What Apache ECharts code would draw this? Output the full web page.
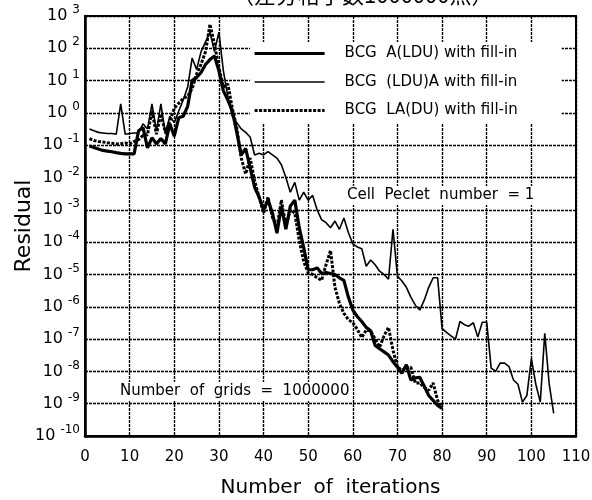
<!DOCTYPE html>
<html>
<head>
<meta charset="utf-8">
<script src="https://cdn.jsdelivr.net/npm/echarts@6/dist/echarts.min.js"></script>
<style>
html, body { margin: 0; padding: 0; background: #fff; }
#chart { width: 592px; height: 500px; }
</style>
</head>
<body>
<div id="chart"></div>
<script>
// Iteration numbers (x) for each convergence history
const iterations = [
  1,2,3,4,5,6,7,8,9,10,11,12,13,14,15,16,17,18,19,20,
  21,22,23,24,25,26,27,28,29,30,31,32,33,34,35,36,37,38,39,40,
  41,42,43,44,45,46,47,48,49,50,51,52,53,54,55,56,57,58,59,60,
  61,62,63,64,65,66,67,68,69,70,71,72,73,74,75,76,77,78,79,80,
  81,82,83,84,85,86,87,88,89,90,91,92,93,94,95,96,97,98,99,100,
  101,102,103,104,105
];

// BCG A(LDU) with fill-in : residual per iteration (1..80)
const residualA_LDU = [
  9.5e-2, 8.5e-2, 7.6e-2, 6.9e-2, 6.6e-2, 6.3e-2, 5.9e-2, 5.6e-2, 5.4e-2, 5.4e-2,
  5.4e-2, 2.8e-1, 3.5e-1, 8.3e-2, 1.7e-1, 1.1e-1, 1.6e-1, 1.1e-1, 4.6e-1, 1.9e-1,
  7.1e-1, 7.9e-1, 1.6, 10, 12.6, 17.8, 31.6, 44.7, 57.5, 20,
  4.8, 2.5, 1.15, 2.5e-1, 5.0e-2, 7.9e-2, 2.0e-2, 5.0e-3, 2.5e-3, 1.0e-3,
  2.0e-3, 7.9e-4, 1.9e-4, 1.3e-3, 2.5e-4, 1.3e-3, 2.0e-3, 2.8e-4, 6.8e-5, 1.4e-5,
  1.4e-5, 1.6e-5, 1.07e-5, 1.15e-5, 1.07e-5, 1.0e-5, 7.9e-6, 6.6e-6, 2.0e-6, 7.9e-7,
  5.0e-7, 3.5e-7, 2.3e-7, 1.8e-7, 6.3e-8, 5.0e-8, 4.0e-8, 3.2e-8, 2.0e-8, 1.35e-8,
  8.7e-9, 1.6e-8, 5.4e-9, 6.3e-9, 6.6e-9, 3.5e-9, 1.8e-9, 1.26e-9, 8.9e-10, 7.1e-10
];

// BCG (LDU)A with fill-in : residual per iteration (1..105)
const residualLDU_A = [
  3.2e-1, 2.8e-1, 2.5e-1, 2.4e-1, 2.3e-1, 2.3e-1, 2.2e-1, 1.9, 2.2e-1, 2.3e-1,
  2.4e-1, 2.4e-1, 4.6e-1, 3.2e-1, 1.9, 2.8e-1, 1.9, 2.2e-1, 7.9e-1, 5.0e-1,
  1.15, 2.5, 6.3, 50, 22, 79, 158, 316, 79, 316,
  20, 3.2, 7.9e-1, 5.0e-1, 3.2e-1, 2.5e-1, 1.8e-1, 5.0e-2, 5.6e-2, 5.0e-2,
  6.3e-2, 5.0e-2, 4.0e-2, 2.5e-2, 1.0e-2, 3.5e-3, 7.1e-3, 2.0e-3, 3.5e-3, 2.0e-3,
  2.8e-3, 1.0e-3, 5.0e-4, 4.0e-4, 2.8e-4, 4.5e-4, 2.5e-4, 5.6e-4, 2.0e-4, 8.9e-5,
  7.1e-5, 6.3e-5, 1.8e-5, 2.8e-5, 2.0e-5, 1.26e-5, 1.0e-5, 7.1e-6, 2.5e-4, 8.9e-6,
  6.3e-6, 4.0e-6, 2.0e-6, 1.12e-6, 7.9e-7, 1.6e-6, 4.0e-6, 7.9e-6, 7.9e-6, 2.1e-7,
  1.6e-7, 1.26e-7, 1.0e-7, 3.5e-7, 2.8e-7, 2.5e-7, 3.2e-7, 1.15e-7, 3.3e-7, 3.3e-7,
  1.26e-8, 1.0e-8, 1.8e-8, 1.8e-8, 1.4e-8, 5.4e-9, 4.0e-9, 1.12e-9, 1.8e-9, 2.5e-8,
  4.0e-9, 1.12e-9, 1.5e-7, 4.0e-9, 5.0e-10
];

// BCG LA(DU) with fill-in : residual per iteration (1..80)
const residualLA_DU = [
  1.6e-1, 1.4e-1, 1.3e-1, 1.26e-1, 1.2e-1, 1.15e-1, 1.1e-1, 1.12e-1, 1.17e-1, 1.1e-1,
  1.3e-1, 1.5e-1, 2.0e-1, 2.1e-1, 1.15, 2.2e-1, 9.3e-1, 2.5e-1, 5.6e-1, 1.4,
  2.0, 2.8, 3.3, 5.6, 16, 32, 79, 560, 135, 25,
  6.3, 7.9, 1.4, 3.5e-1, 4.0e-2, 1.3e-2, 4.0e-2, 7.9e-3, 2.5e-3, 7.9e-4,
  2.5e-3, 5.8e-4, 2.8e-4, 2.0e-3, 3.2e-4, 1.0e-3, 7.9e-4, 1.12e-4, 2.5e-5, 1.12e-5,
  1.0e-5, 7.9e-6, 6.6e-6, 2.0e-5, 5.5e-5, 4.0e-6, 1.26e-6, 6.3e-7, 4.0e-7, 3.2e-7,
  2.0e-7, 1.12e-7, 1.9e-7, 1.8e-7, 1.0e-7, 5.6e-8, 1.26e-7, 2.3e-7, 4.5e-8, 1.35e-8,
  1.1e-8, 1.26e-8, 1.35e-8, 4.4e-9, 4.4e-9, 3.2e-9, 2.6e-9, 4.4e-9, 1.26e-9, 7.9e-10
];

const seriesNames = [
  'BCG  A(LDU) with fill-in',
  'BCG  (LDU)A with fill-in',
  'BCG  LA(DU) with fill-in'
];

const xMin = 0, xMax = 110, xStep = 10;
const yMin = 1e-10, yMax = 1e3;

const latin = '"DejaVu Sans", "Liberation Sans", Arial, sans-serif';

// Line styles of the three histories (also used for the legend samples)
const styleThick = { color: '#000', width: 3.2, type: 'solid' };
const styleThin = { color: '#000', width: 1.6, type: 'solid' };
const styleDotted = { color: '#000', width: 3, type: [3, 1.5] };

function pairs(values) {
  return values.map((v, i) => [iterations[i], v]);
}

const chart = echarts.init(document.getElementById('chart'), null, { renderer: 'canvas' });

const gridLine = { color: '#000', width: 1.4, type: [3, 1] };
const hiddenSymbol = { color: 'transparent', borderWidth: 0, opacity: 0 };

chart.setOption({
  animation: false,
  backgroundColor: '#fff',
  textStyle: { fontFamily: latin, color: '#000' },
  grid: {
    left: 85, top: 16, width: 491, height: 420,
    outerBoundsMode: 'none', containLabel: false,
    show: true, borderColor: '#000', borderWidth: 2, backgroundColor: 'transparent'
  },
  legend: {
    orient: 'vertical',
    left: 250, top: 42,
    padding: [4, 44, 5, 3],
    backgroundColor: '#fff',
    itemWidth: 70, itemHeight: 14, itemGap: 13.5,
    selectedMode: false,
    textStyle: { fontFamily: latin, fontSize: 15, color: '#000', padding: [0, 0, 0, 15] },
    data: [
      { name: seriesNames[0], itemStyle: hiddenSymbol, lineStyle: styleThick },
      { name: seriesNames[1], itemStyle: hiddenSymbol, lineStyle: styleThin },
      { name: seriesNames[2], itemStyle: hiddenSymbol, lineStyle: styleDotted }
    ]
  },
  xAxis: {
    type: 'value', min: xMin, max: xMax, interval: xStep,
    name: 'Number  of  iterations', nameLocation: 'middle', nameGap: 42,
    nameMoveOverlap: false,
    nameTextStyle: { fontFamily: latin, fontSize: 20, color: '#000' },
    axisLine: { show: true, lineStyle: { color: '#000', width: 2.5 } },
    axisTick: { show: false },
    axisLabel: { fontFamily: latin, fontSize: 15, color: '#000', margin: 14 },
    splitLine: { show: true, lineStyle: gridLine }
  },
  yAxis: {
    type: 'log', logBase: 10, min: yMin, max: yMax, interval: 1, splitNumber: 13,
    name: 'Residual', nameLocation: 'middle', nameGap: 50,
    nameMoveOverlap: false,
    nameTextStyle: { fontFamily: latin, fontSize: 22, color: '#000' },
    axisLine: { show: true, lineStyle: { color: '#000', width: 2.5 } },
    axisTick: { show: false },
    axisLabel: {
      margin: 5,
      formatter: function (v) {
        const e = Math.round(Math.log10(v));
        return '{b|10}{s|' + e + '}';
      },
      rich: {
        b: { fontFamily: latin, fontSize: 16, color: '#000' },
        s: { fontFamily: latin, fontSize: 12, color: '#000', padding: [0, 0, 12, 5] }
      }
    },
    splitLine: { show: true, lineStyle: gridLine }
  },
  series: [
    {
      name: seriesNames[0], type: 'line', data: pairs(residualA_LDU),
      showSymbol: false, symbol: 'none', z: 4,
      itemStyle: { color: '#000' },
      lineStyle: styleThick
    },
    {
      name: seriesNames[1], type: 'line', data: pairs(residualLDU_A),
      showSymbol: false, symbol: 'none', z: 3,
      itemStyle: { color: '#000' },
      lineStyle: styleThin
    },
    {
      name: seriesNames[2], type: 'line', data: pairs(residualLA_DU),
      showSymbol: false, symbol: 'none', z: 5,
      itemStyle: { color: '#000' },
      lineStyle: styleDotted
    }
  ],
  graphic: [
    {
      type: 'text', left: 232, top: -16, z: 10,
      style: { text: '（差分格子数1000000点）', fontFamily: '"Noto Sans CJK JP", sans-serif', fontSize: 22, fill: '#000' }
    },
    {
      type: 'text', left: 344, top: 186, z: 10,
      style: {
        text: 'Cell  Peclet  number  = 1', fontFamily: latin, fontSize: 15, fill: '#000',
        backgroundColor: '#fff', padding: [2, 3, 2, 3]
      }
    },
    {
      type: 'text', left: 117, top: 382, z: 10,
      style: {
        text: 'Number  of  grids  =  1000000', fontFamily: latin, fontSize: 15, fill: '#000',
        backgroundColor: '#fff', padding: [2, 3, 2, 3]
      }
    }
  ]
});
</script>
</body>
</html>
